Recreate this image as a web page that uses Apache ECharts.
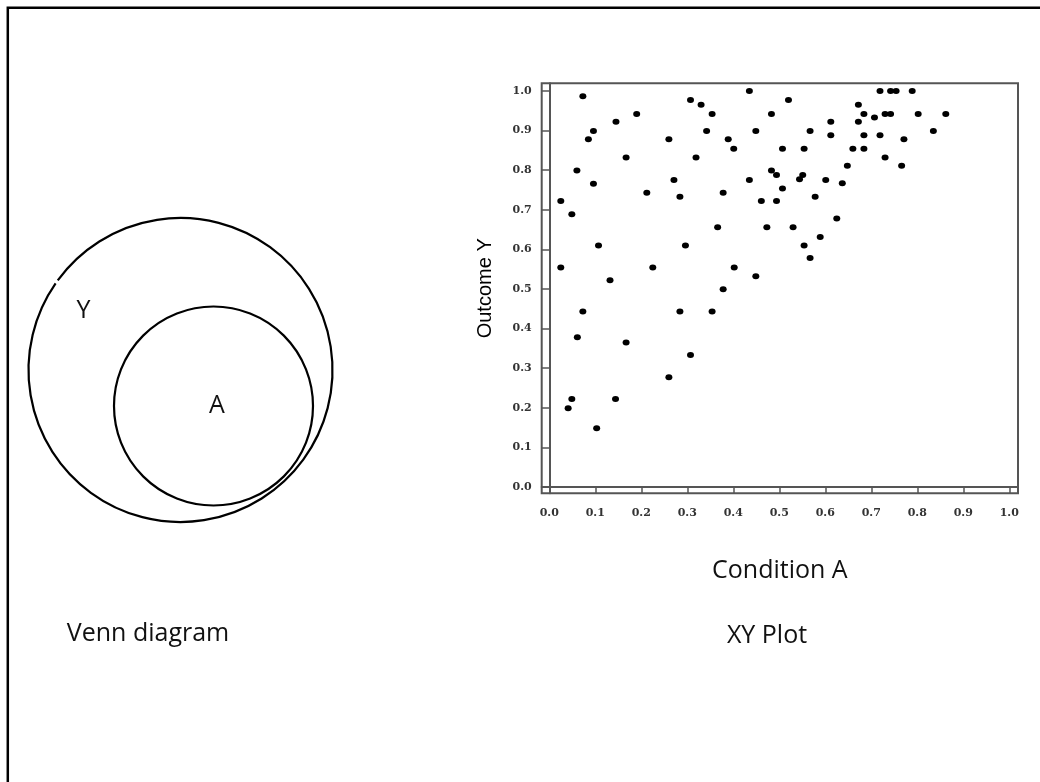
<!DOCTYPE html>
<html>
<head>
<meta charset="utf-8">
<script src="https://cdn.jsdelivr.net/npm/echarts@6/dist/echarts.min.js"></script>
<style>
html,body{margin:0;padding:0;background:#fff;}
#chart{width:1040px;height:782px;}
</style>
</head>
<body>
<div id="chart"></div>
<script>
// Condition A (x) values
const conditionA = [
  0.073, 0.096, 0.085, 0.145, 0.190, 0.167, 0.060, 0.096, 0.025, 0.049,
  0.107, 0.025, 0.132, 0.073, 0.212, 0.225, 0.260, 0.271, 0.284, 0.307,
  0.330, 0.354, 0.342, 0.319, 0.296, 0.284, 0.354, 0.389, 0.401, 0.378,
  0.366, 0.402, 0.378, 0.435, 0.449, 0.435, 0.461, 0.473, 0.449, 0.483,
  0.483, 0.520, 0.567, 0.507, 0.554, 0.494, 0.544, 0.551, 0.507, 0.494,
  0.578, 0.601, 0.637, 0.612, 0.612, 0.648, 0.660, 0.684, 0.672, 0.672,
  0.684, 0.707, 0.684, 0.719, 0.730, 0.719, 0.742, 0.754, 0.789, 0.730,
  0.742, 0.802, 0.862, 0.835, 0.771, 0.766, 0.625, 0.530, 0.589, 0.554,
  0.567, 0.061, 0.167, 0.307, 0.260, 0.049, 0.144, 0.041, 0.103
];
// Outcome Y (y) values
const outcomeY = [
  0.987, 0.899, 0.878, 0.922, 0.942, 0.832, 0.799, 0.766, 0.722, 0.689,
  0.610, 0.554, 0.522, 0.443, 0.743, 0.554, 0.878, 0.775, 0.733, 0.977,
  0.965, 0.942, 0.899, 0.832, 0.610, 0.443, 0.443, 0.878, 0.854, 0.743,
  0.656, 0.554, 0.499, 1.000, 0.899, 0.775, 0.722, 0.656, 0.532, 0.942,
  0.799, 0.977, 0.899, 0.854, 0.854, 0.788, 0.777, 0.788, 0.754, 0.722,
  0.733, 0.775, 0.767, 0.922, 0.888, 0.811, 0.854, 0.854, 0.922, 0.965,
  0.942, 0.933, 0.888, 0.888, 0.832, 1.000, 1.000, 1.000, 1.000, 0.942,
  0.942, 0.942, 0.942, 0.899, 0.878, 0.811, 0.678, 0.656, 0.631, 0.610,
  0.578, 0.378, 0.365, 0.333, 0.277, 0.222, 0.222, 0.199, 0.148
];
const tickValues = [0, 0.1, 0.2, 0.3, 0.4, 0.5, 0.6, 0.7, 0.8, 0.9, 1.0];
const xTitle = 'Condition A';
const yTitle = 'Outcome Y';
const vennLabel = 'Venn diagram';
const plotLabel = 'XY Plot';
const vennSetOuter = 'Y';
const vennSetInner = 'A';

const points = conditionA.map((x, i) => [x, outcomeY[i]]);

const axisColor = '#555';
const labelStyle = {
  fontFamily: 'DejaVu Serif',
  fontWeight: 'bold',
  fontSize: 11,
  color: '#333',
  formatter: v => Number(v).toFixed(1),
  customValues: tickValues
};

const chart = echarts.init(document.getElementById('chart'), null, {renderer: 'canvas'});
chart.setOption({
  animation: false,
  backgroundColor: '#ffffff',
  grid: {
    left: 541.7, right: 22, top: 83.3, bottom: 288.7,
    show: true, borderColor: axisColor, borderWidth: 2,
    backgroundColor: 'transparent',
    outerBoundsMode: 'none'
  },
  xAxis: {
    type: 'value', min: -0.0165, max: 1.019,
    name: xTitle, nameLocation: 'middle', nameGap: 65,
    nameTextStyle: {fontFamily: 'Open Sans', fontSize: 25, color: '#111'},
    axisLine: {show: true, lineStyle: {color: axisColor, width: 2}},
    axisTick: {show: true, length: 7, customValues: tickValues, lineStyle: {color: axisColor, width: 1.5}},
    axisLabel: Object.assign({margin: 14}, labelStyle),
    splitLine: {show: false}
  },
  yAxis: {
    type: 'value', min: -0.016, max: 1.0194,
    name: yTitle, nameLocation: 'middle', nameGap: 46,
    nameTextStyle: {fontFamily: 'Liberation Sans', fontSize: 20, color: '#000'},
    axisLine: {show: true, lineStyle: {color: axisColor, width: 2}},
    axisTick: {show: true, length: 8, customValues: tickValues, lineStyle: {color: axisColor, width: 1.5}},
    axisLabel: Object.assign({margin: 10}, labelStyle),
    splitLine: {show: false}
  },
  series: [{
    type: 'scatter',
    data: points,
    symbol: 'circle',
    symbolSize: [7, 6],
    itemStyle: {color: '#000', opacity: 1}
  }],
  graphic: [
    {type: 'polyline', silent: true,
     shape: {points: [[7.8, 782], [7.8, 7.8], [1040, 7.8]]},
     style: {stroke: '#000', lineWidth: 2.5, fill: null}},
    {type: 'arc', silent: true,
     shape: {cx: 180.5, cy: 370, r: 152, startAngle: -2.511, endAngle: 3.748, clockwise: true},
     style: {stroke: '#000', lineWidth: 2.2, fill: null}},
    {type: 'circle', silent: true,
     shape: {cx: 213.5, cy: 406, r: 99.5},
     style: {stroke: '#000', lineWidth: 2.2, fill: null}},
    {type: 'text', silent: true, x: 83.5, y: 311,
     style: {text: vennSetOuter, fontFamily: 'Open Sans', fontSize: 25, fill: '#111', align: 'center', verticalAlign: 'middle'}},
    {type: 'text', silent: true, x: 217, y: 406,
     style: {text: vennSetInner, fontFamily: 'Open Sans', fontSize: 25, fill: '#111', align: 'center', verticalAlign: 'middle'}},
    {type: 'text', silent: true, x: 148, y: 634,
     style: {text: vennLabel, fontFamily: 'Open Sans', fontSize: 25, fill: '#111', align: 'center', verticalAlign: 'middle'}},
    {type: 'text', silent: true, x: 767, y: 636,
     style: {text: plotLabel, fontFamily: 'Open Sans', fontSize: 25, fill: '#111', align: 'center', verticalAlign: 'middle'}}
  ]
});
</script>
</body>
</html>
